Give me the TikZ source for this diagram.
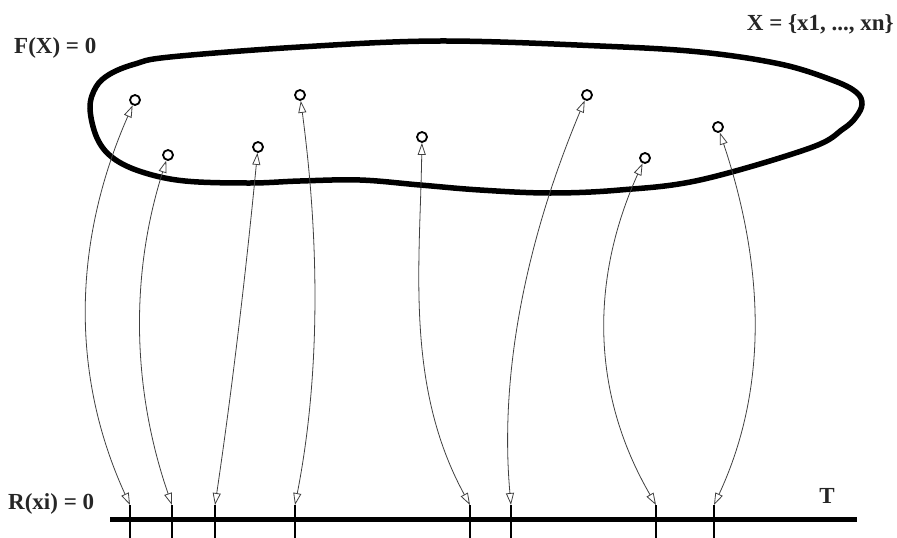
\documentclass[tikz,border=0pt]{standalone}
\usepackage{fontspec}
\setmainfont{Liberation Serif}
\usetikzlibrary{arrows.meta}
\begin{document}
\begin{tikzpicture}[x=1pt,y=-1pt,
  pt/.style={circle,draw=black,line width=1.8pt,minimum size=10pt,inner sep=0pt},
  lbl/.style={font=\fontsize{23}{26}\selectfont\bfseries,text=black!85,inner sep=0pt},
  arr/.style={draw=black!75,line width=0.8pt,
    {Triangle[open,length=12pt,width=8pt]}-{Triangle[open,length=12pt,width=8pt]}},
  tick/.style={line width=2pt},
  blob/.style={line width=5.5pt},
  base/.style={line width=5pt}]
\useasboundingbox (0,0) rectangle (897,538);
% closed set F(X)=0
\draw[blob] plot[smooth cycle,tension=0.6] coordinates {
 (90,108) (96,87) (110,74) (135,64) (170,57) (300,47) (440,41) (600,46)
 (700,52) (780,64) (832,80) (856,92) (862,104) (856,117) (843,129)
 (810,148) (700,180) (620,190) (550,193) (480,190) (420,185) (360,180)
 (300,181) (250,183) (185,181) (142,172) (113,158) (97,138)};
% points
\node[pt] (c1) at (135,100) {};
\node[pt] (c2) at (168,155) {};
\node[pt] (c3) at (258,147) {};
\node[pt] (c4) at (300,95) {};
\node[pt] (c5) at (422,137) {};
\node[pt] (c6) at (587,95) {};
\node[pt] (c7) at (645,158) {};
\node[pt] (c8) at (718,127) {};
% base line T
\coordinate (L) at (110,519);
\coordinate (R) at (857,519);
\draw[base] (L) -- (R);
\foreach \i/\x in {1/130,2/172,3/215,4/295,5/470,6/511,7/656,8/714}{
  \coordinate (t\i) at (\x,505);
  \coordinate (b\i) at (\x,540);
  \draw[tick] (t\i) -- (b\i);
}
% connectors
\draw[arr] (t1) .. controls (70,374) and (73,241) .. (c1);
\draw[arr] (t2) .. controls (133,392) and (129,278) .. (c2);
\draw[arr] (t3) .. controls (232,390) and (246,272) .. (c3);
\draw[arr] (t4) .. controls (321,372) and (319,238) .. (c4);
\draw[arr] (t5) .. controls (405,386) and (420,266) .. (c5);
\draw[arr] (t6) .. controls (499,372) and (527,238) .. (c6);
\draw[arr] (t7) .. controls (591,393) and (590,280) .. (c7);
\draw[arr] (t8) .. controls (771,383) and (762,259) .. (c8);
% labels
\node[lbl,anchor=base west] (fx) at (14,53) {F(X) = 0};
\node[lbl,anchor=base east] (xs) at (894,30) {X = \{x1, ..., xn\}};
\node[lbl,anchor=base west] (rx) at (8,509) {R(xi) = 0};
\node[lbl,anchor=base] (tt) at (827,503) {T};
\end{tikzpicture}
\end{document}
